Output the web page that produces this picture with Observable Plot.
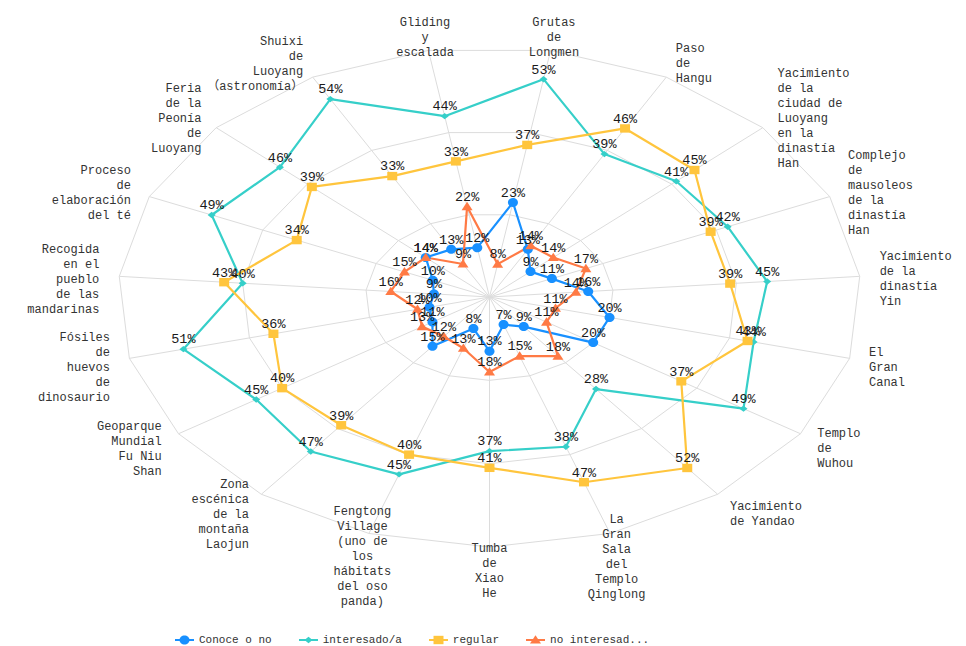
<!DOCTYPE html>
<html><head><meta charset="utf-8">
<script src="https://cdn.jsdelivr.net/npm/d3@7"></script>
<script src="https://cdn.jsdelivr.net/npm/@observablehq/plot@0.6"></script>
<style>
body{margin:0;background:#fff;}
#wrap{width:966px;height:646px;position:relative;overflow:hidden;}
g[aria-label="pct"] text{letter-spacing:2px;}
g[aria-label^="cat"] text{letter-spacing:1.6px;}
#legend{position:absolute;left:175px;top:633px;height:14px;display:flex;align-items:center;font-family:"Liberation Mono",monospace;font-size:11px;color:#333;}
#legend .item{display:flex;align-items:center;margin-right:27px;}
#legend svg{margin-right:5px;}
</style></head><body>
<div id="wrap"><div id="chart"></div><div id="legend"></div></div>
<script>
// ---- data ----
const categories = [
  "Grutas\nde\nLongmen",
  "Paso\nde\nHangu",
  "Yacimiento\nde la\nciudad de\nLuoyang\nen la\ndinastía\nHan",
  "Complejo\nde\nmausoleos\nde la\ndinastía\nHan",
  "Yacimiento\nde la\ndinastía\nYin",
  "El\nGran\nCanal",
  "Templo\nde\nWuhou",
  "Yacimiento\nde Yandao",
  "La\nGran\nSala\ndel\nTemplo\nQinglong",
  "Tumba\nde\nXiao\nHe",
  "Fengtong\nVillage\n(uno de\nlos\nhábitats\ndel oso\npanda)",
  "Zona\nescénica\nde la\nmontaña\nLaojun",
  "Geoparque\nMundial\nFu Niu\nShan",
  "Fósiles\nde\nhuevos\nde\ndinosaurio",
  "Recogida\nen el\npueblo\nde las\nmandarinas",
  "Proceso\nde\nelaboración\ndel té",
  "Feria\nde la\nPeonía\nde\nLuoyang",
  "Shuixi\nde\nLuoyang\n（astronomía）",
  "Gliding\ny\nescalada"
];
const seriesNames = ["Conoce o no", "interesado/a", "regular", "no interesad..."];
const conoce       = [23, 13,  9, 11, 16, 20, 20,  9,  7, 13,  8, 15, 11, 10,  9, 10, 14, 13, 12];
const interesado   = [53, 39, 41, 42, 45, 44, 49, 28, 38, 37, 45, 47, 45, 51, 40, 49, 46, 54, 44];
const regular      = [37, 46, 45, 39, 39, 43, 37, 52, 47, 41, 40, 39, 40, 36, 43, 34, 39, 33, 33];
const noInteresado = [ 8, 14, 14, 17, 14, 11, 11, 18, 15, 18, 13, 12, 13, 12, 16, 15, 14,  9, 22];
const gridLevels = [20, 40, 60];
const maxValue = 60;
const colors = ["#1890ff", "#36cfc9", "#ffc53d", "#ff7a45"];

// ---- geometry ----
const cx = 489, cy = 296.5, rx = 371.5, ry = 250;
const n = categories.length;
const angle = i => (i + 0.5) * 2 * Math.PI / n;
const px = (i, v) => (v / maxValue) * Math.sin(angle(i));
const py = (i, v) => (v / maxValue) * Math.cos(angle(i));

const allSeries = [conoce, interesado, regular, noInteresado];
const rows = allSeries.map((vals, s) => vals.map((v, i) => ({s, i, v, x: px(i, v), y: py(i, v)})));
const closed = rows.map(r => [...r, r[0]]);

const ringRows = gridLevels.flatMap(l => d3.range(n + 1).map(k => ({l, x: px(k % n, l), y: py(k % n, l)})));
const spokes = d3.range(n).map(i => ({x2: px(i, maxValue), y2: py(i, maxValue)}));

// category label anchors
const catRows = categories.map((t, i) => {
  const s = Math.sin(angle(i)), c = Math.cos(angle(i));
  const lines = t.split("\n").length;
  let pyPix = cy - (ry + 20) * c + 3;
  pyPix = Math.max(pyPix, 21 + (lines - 1) * 7.5);
  const align = Math.abs(s) < 0.4 ? "middle" : (s > 0 ? "start" : "end");
  return {t, align, x: (rx + 20) / rx * s, y: (cy - pyPix) / ry};
});

function sym(kind, w, h) {
  return {draw(ctx) {
    if (kind === "square") { ctx.moveTo(-w,-h); ctx.lineTo(w,-h); ctx.lineTo(w,h); ctx.lineTo(-w,h); ctx.closePath(); }
    else if (kind === "diamond") { ctx.moveTo(0,-h); ctx.lineTo(w,0); ctx.lineTo(0,h); ctx.lineTo(-w,0); ctx.closePath(); }
    else if (kind === "triangle") { ctx.moveTo(0,-h); ctx.lineTo(w,h*0.75); ctx.lineTo(-w,h*0.75); ctx.closePath(); }
    else { const k = 0.5523; ctx.moveTo(w,0); ctx.bezierCurveTo(w,k*h,k*w,h,0,h); ctx.bezierCurveTo(-k*w,h,-w,k*h,-w,0); ctx.bezierCurveTo(-w,-k*h,-k*w,-h,0,-h); ctx.bezierCurveTo(k*w,-h,w,-k*h,w,0); ctx.closePath(); }
  }};
}
const symbols = [sym("circle", 5, 4.5), sym("diamond", 4, 3.2), sym("square", 5, 4.2), sym("triangle", 5.5, 4.8)];

const marks = [
  Plot.line(ringRows, {x: "x", y: "y", z: "l", stroke: "#dcdcdc", strokeWidth: 1}),
  Plot.link(spokes, {x1: 0, y1: 0, x2: "x2", y2: "y2", stroke: "#dcdcdc", strokeWidth: 1}),
];
allSeries.forEach((_, s) => {
  marks.push(Plot.line(closed[s], {x: "x", y: "y", stroke: colors[s], strokeWidth: 2.2}));
});
allSeries.forEach((_, s) => {
  marks.push(Plot.dot(rows[s], {x: "x", y: "y", fill: colors[s], stroke: "none", symbol: symbols[s], r: 4}));
});
allSeries.forEach((_, s) => {
  marks.push(Plot.text(rows[s], {x: "x", y: "y", text: d => d.v + "%", dy: -10, fontSize: 13.5, fontFamily: "Liberation Mono, monospace", fill: "#1a1a1a", ariaLabel: "pct"}));
});
["start", "middle", "end"].forEach(a => {
  marks.push(Plot.text(catRows.filter(d => d.align === a), {x: "x", y: "y", text: "t", textAnchor: a, lineAnchor: "middle", lineHeight: 1.25, fontSize: 12, fontFamily: "Liberation Mono, Noto Sans CJK SC, monospace", fill: "#333", ariaLabel: "cat-" + a}));
});

const chart = Plot.plot({
  width: 966, height: 632, margin: 0,
  x: {domain: [-1, 1], range: [cx - rx, cx + rx], axis: null},
  y: {domain: [-1, 1], range: [cy + ry, cy - ry], axis: null},
  style: {background: "white", overflow: "visible"},
  marks
});
document.getElementById("chart").appendChild(chart);

// legend
const leg = d3.select("#legend");
seriesNames.forEach((name, s) => {
  const item = leg.append("div").attr("class", "item");
  const svg = item.append("svg").attr("width", 19).attr("height", 12);
  svg.append("line").attr("x1", 0).attr("x2", 19).attr("y1", 6).attr("y2", 6).attr("stroke", colors[s]).attr("stroke-width", 2);
  const p = d3.path(); symbols[s].draw(p);
  svg.append("path").attr("d", p.toString()).attr("transform", "translate(9.5,6)").attr("fill", colors[s]);
  item.append("span").text(name);
});
</script>
</body></html>
